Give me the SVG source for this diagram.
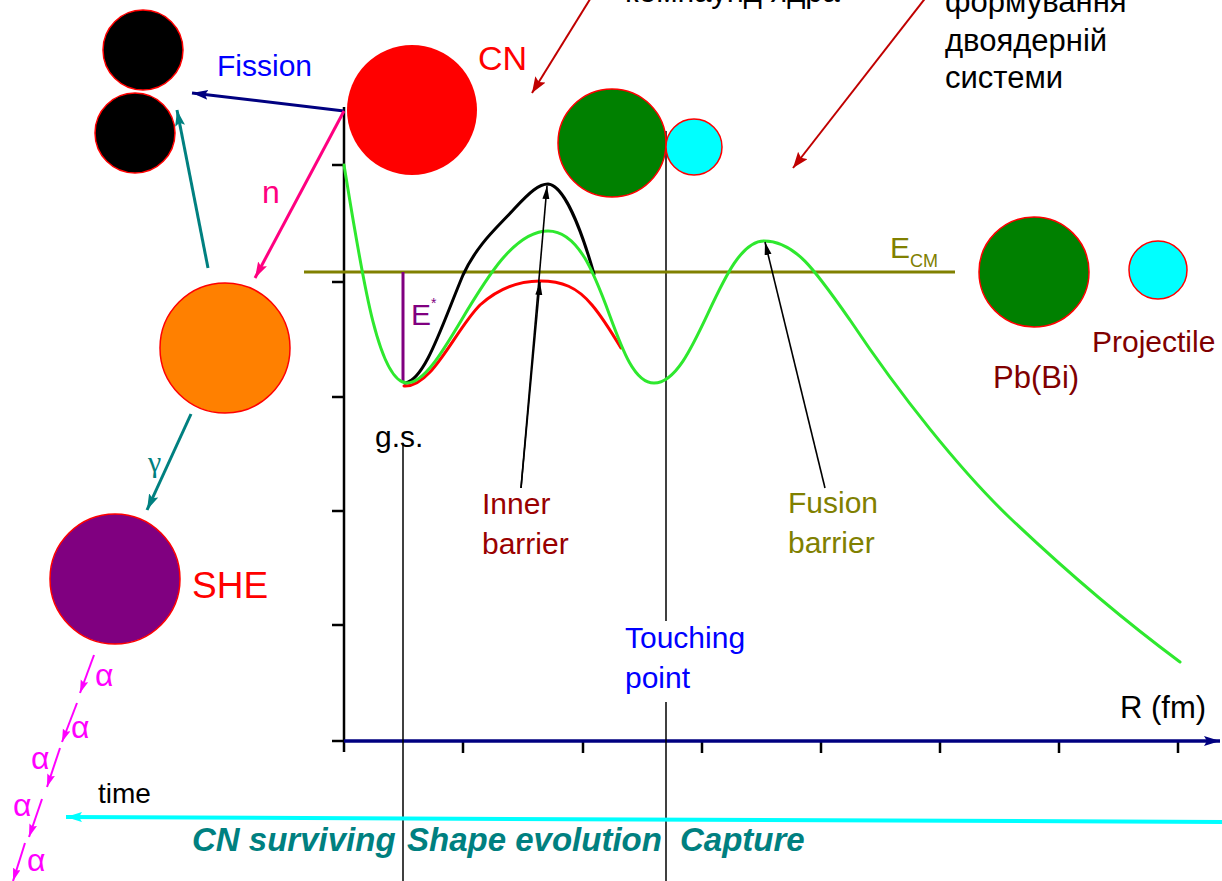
<svg xmlns="http://www.w3.org/2000/svg" width="1222" height="881" viewBox="0 0 1222 881">
<defs>
<style>
text{font-family:"Liberation Sans",Arial,sans-serif}
.gr{font-family:"Liberation Serif","Times New Roman",serif}
.nuc{stroke:#ff0000;stroke-width:1.5}
.curve{fill:none;stroke-width:3;stroke-linejoin:round;stroke-linecap:round}
.bi{font-weight:bold;font-style:italic;fill:#008080;font-size:33px}
</style>
<marker id="mNavy" markerUnits="userSpaceOnUse" markerWidth="18" markerHeight="12" refX="16" refY="5" orient="auto"><path d="M0,0 L16,5 L0,10 L3,5 z" fill="#000080"/></marker>
<marker id="mPink" markerUnits="userSpaceOnUse" markerWidth="18" markerHeight="12" refX="16" refY="5" orient="auto"><path d="M0,0 L16,5 L0,10 L3,5 z" fill="#ff0080"/></marker>
<marker id="mTeal" markerUnits="userSpaceOnUse" markerWidth="18" markerHeight="12" refX="16" refY="5" orient="auto"><path d="M0,0 L16,5 L0,10 L3,5 z" fill="#008080"/></marker>
<marker id="mRed" markerUnits="userSpaceOnUse" markerWidth="18" markerHeight="14" refX="16" refY="6" orient="auto"><path d="M0,0 L16,6 L0,12 L3,6 z" fill="#c00000"/></marker>
<marker id="mBlack" markerUnits="userSpaceOnUse" markerWidth="14" markerHeight="8" refX="13" refY="3.5" orient="auto"><path d="M0,0 L13,3.5 L0,7 z" fill="#000"/></marker>
<marker id="mMag" markerUnits="userSpaceOnUse" markerWidth="14" markerHeight="10" refX="13" refY="4" orient="auto"><path d="M0,0 L13,4 L0,8 L2,4 z" fill="#ff00ff"/></marker>
<marker id="mCyan" markerUnits="userSpaceOnUse" markerWidth="18" markerHeight="12" refX="16" refY="5" orient="auto"><path d="M0,0 L16,5 L0,10 L3,5 z" fill="#00ffff"/></marker>
<marker id="mAxis" markerUnits="userSpaceOnUse" markerWidth="18" markerHeight="12" refX="16" refY="5" orient="auto"><path d="M0,0 L16,5 L0,10 L3,5 z" fill="#000080"/></marker>
</defs>
<rect width="1222" height="881" fill="#fff"/>

<g id="axes">
<line x1="344" y1="107" x2="344" y2="752" stroke="#000" stroke-width="2.5"/>
<g stroke="#000" stroke-width="2.5">
<line x1="332" y1="165" x2="344" y2="165"/>
<line x1="332" y1="282" x2="344" y2="282"/>
<line x1="332" y1="397" x2="344" y2="397"/>
<line x1="332" y1="511" x2="344" y2="511"/>
<line x1="332" y1="625" x2="344" y2="625"/>
<line x1="332" y1="741" x2="344" y2="741"/>
<line x1="463" y1="741" x2="463" y2="753"/>
<line x1="583" y1="741" x2="583" y2="753"/>
<line x1="702" y1="741" x2="702" y2="753"/>
<line x1="821" y1="741" x2="821" y2="753"/>
<line x1="940" y1="741" x2="940" y2="753"/>
<line x1="1059" y1="741" x2="1059" y2="753"/>
<line x1="1178" y1="741" x2="1178" y2="753"/>
</g>
<line x1="344" y1="741" x2="1220" y2="741" stroke="#000080" stroke-width="3.5" marker-end="url(#mAxis)"/>
<text x="1120" y="718" font-size="31">R (fm)</text>
</g>

<g id="guides">
<line x1="403" y1="443" x2="403" y2="881" stroke="#000" stroke-width="1.5"/>
<line x1="666" y1="131" x2="666" y2="621" stroke="#000" stroke-width="1.5"/>
<line x1="666" y1="702" x2="666" y2="881" stroke="#000" stroke-width="1.5"/>
<text x="375" y="447" font-size="30">g.s.</text>
<text x="625" y="648" font-size="30" fill="#0000ff">Touching</text>
<text x="625" y="688" font-size="30" fill="#0000ff">point</text>
</g>

<g id="ecm">
<line x1="304" y1="272" x2="955" y2="272" stroke="#808000" stroke-width="3"/>
<text x="890" y="258" font-size="30" fill="#808000">E<tspan font-size="18" dy="9">CM</tspan></text>
</g>

<g id="estar">
<line x1="403" y1="272" x2="403" y2="383" stroke="#800080" stroke-width="3"/>
<text x="411" y="325" font-size="30" fill="#800080">E<tspan font-size="14" dy="-17">*</tspan></text>
</g>

<g id="curves">
<path class="curve" stroke="#ff0000" d="M404,386 C432,388 455,330 480,305 C500,287 520,281 540,281 C562,281 577,287 592,305 C603,318 612,333 621,348"/>
<path class="curve" stroke="#000000" d="M405,383 C425,380 442,325 463,275 C478,243 497,228 515,208 C530,192 539,184 548,184 C563,185 580,225 594,274"/>
<path class="curve" stroke="#2ee82e" d="M344,165 C362,275 378,383 407,383 C445,383 488,231 548,231 C605,231 612,383 654,383 C697,383 720,241 764,241 C795,241 815,270 850,320 C900,395 960,470 1010,518 C1070,575 1130,625 1180,662"/>
</g>

<g id="node-fragment1"><circle class="nuc" cx="143" cy="50" r="40" fill="#000"/></g>
<g id="node-fragment2"><circle class="nuc" cx="135" cy="133" r="40" fill="#000"/></g>
<g id="node-cn"><circle cx="412" cy="110" r="65" fill="#ff0000"/><text x="478" y="70" font-size="34" fill="#ff0000">CN</text></g>
<g id="node-excited"><circle class="nuc" cx="225" cy="348" r="65" fill="#ff8000"/></g>
<g id="node-she"><circle class="nuc" cx="115" cy="579" r="65" fill="#800080"/><text x="192" y="598" font-size="37" fill="#ff0000">SHE</text></g>
<g id="node-dinuclear"><circle class="nuc" cx="612" cy="143" r="54" fill="#008000"/><circle class="nuc" cx="694" cy="147" r="28" fill="#00ffff"/></g>
<g id="node-target"><circle class="nuc" cx="1034" cy="272" r="55" fill="#008000"/><text x="993" y="388" font-size="31" fill="#800000">Pb(Bi)</text></g>
<g id="node-projectile"><circle class="nuc" cx="1158" cy="270" r="29" fill="#00ffff"/><text x="1092" y="352" font-size="30" fill="#800000">Projectile</text></g>

<g id="connectors">
<line x1="344" y1="111" x2="192" y2="93" stroke="#000080" stroke-width="3" marker-end="url(#mNavy)"/>
<line x1="344" y1="111" x2="255" y2="278" stroke="#ff0080" stroke-width="3" marker-end="url(#mPink)"/>
<line x1="208" y1="268" x2="177" y2="110" stroke="#008080" stroke-width="3" marker-end="url(#mTeal)"/>
<line x1="191" y1="414" x2="147" y2="510" stroke="#008080" stroke-width="3" marker-end="url(#mTeal)"/>
<line x1="592" y1="-4" x2="532" y2="93" stroke="#c00000" stroke-width="2" marker-end="url(#mRed)"/>
<line x1="927" y1="-4" x2="793" y2="168" stroke="#c00000" stroke-width="2" marker-end="url(#mRed)"/>
<line x1="521" y1="488" x2="540" y2="282" stroke="#000" stroke-width="1.6" marker-end="url(#mBlack)"/>
<line x1="521" y1="488" x2="547" y2="186" stroke="#000" stroke-width="1.6" marker-end="url(#mBlack)"/>
<line x1="825" y1="488" x2="765" y2="242" stroke="#000" stroke-width="1.6" marker-end="url(#mBlack)"/>
<g stroke="#ff00ff" stroke-width="2">
<line x1="94" y1="655" x2="80" y2="693" marker-end="url(#mMag)"/>
<line x1="77" y1="703" x2="62" y2="742" marker-end="url(#mMag)"/>
<line x1="60" y1="748" x2="47" y2="787" marker-end="url(#mMag)"/>
<line x1="42" y1="799" x2="29" y2="837" marker-end="url(#mMag)"/>
<line x1="25" y1="843" x2="13" y2="881" marker-end="url(#mMag)"/>
</g>
<line x1="1222" y1="822" x2="66" y2="817" stroke="#00ffff" stroke-width="4" marker-end="url(#mCyan)"/>
</g>

<g id="labels">
<text x="217" y="76" font-size="30" fill="#0000ff">Fission</text>
<text x="262" y="203" font-size="32" fill="#ff0080">n</text>
<text class="gr" x="148" y="472" font-size="30" fill="#008080">γ</text>
<g class="gr" font-size="32" fill="#ff00ff">
<text x="95" y="686">α</text>
<text x="71" y="738">α</text>
<text x="31" y="769">α</text>
<text x="13" y="816">α</text>
<text x="27" y="871">α</text>
</g>
<text x="482" y="514" font-size="30" fill="#990000">Inner</text>
<text x="482" y="554" font-size="30" fill="#990000">barrier</text>
<text x="788" y="513" font-size="30" fill="#808000">Fusion</text>
<text x="788" y="553" font-size="30" fill="#808000">barrier</text>
<text x="98" y="803" font-size="28">time</text>
<text class="bi" x="192" y="851">CN surviving</text>
<text class="bi" x="407" y="851">Shape evolution</text>
<text class="bi" x="680" y="851">Capture</text>
<text x="625" y="2" font-size="31">компаунд ядра</text>
<text x="945" y="12" font-size="31">формування</text>
<text x="945" y="51" font-size="31">двоядерній</text>
<text x="945" y="88" font-size="31">системи</text>
</g>
</svg>
